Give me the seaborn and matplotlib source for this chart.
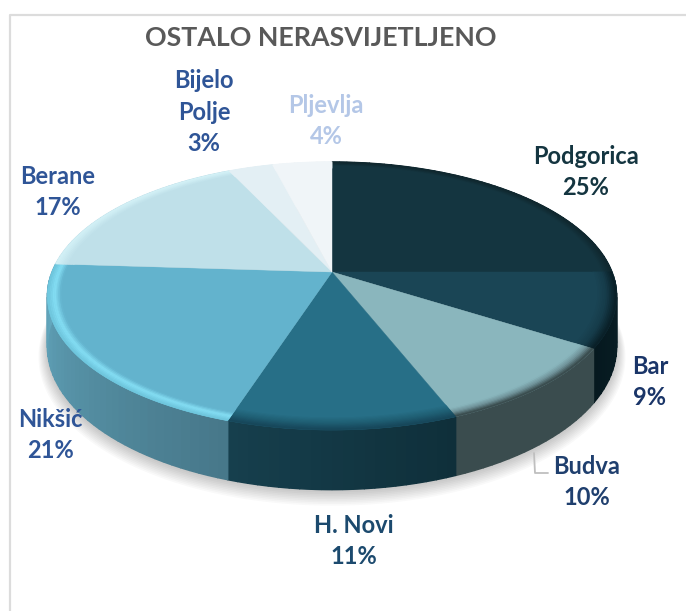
import numpy as np
import matplotlib
matplotlib.use("Agg")
import matplotlib.pyplot as plt
import seaborn as sns

# ── Data ────────────────────────────────────────────────────
title = "OSTALO NERASVIJETLJENO"
cities = ["Podgorica", "Bar", "Budva", "H. Novi", "Nikšić", "Berane", "Bijelo\nPolje", "Pljevlja"]
shares = [25, 9, 10, 11, 21, 17, 3, 4]

# ── Styles ──────────────────────────────────────────────────
top_cols = ["#143540", "#1a4555", "#8ab6bd", "#276f87", "#63b3cd", "#bfe0e9", "#e3eff4", "#f0f5f8"]
rim_cols = [["#143540", "#143540", "#10282f"],
            ["#1a4555", "#163c4a", "#0a2028"],
            ["#8ab6bd", "#8ab6bd", "#6f9299", "#3a4c4e"],
            ["#276f87", "#1f5e73", "#17475a"],
            ["#63b3cd", "#63b3cd", "#85dff5", "#70c8df"],
            ["#bfe0e9", "#bfe0e9", "#c8e8f0", "#d2f0f6"],
            ["#e3eff4", "#e3eff4", "#e3eff4"],
            ["#f0f5f8", "#f0f5f8", "#f0f5f8"]]
wall_cols = [["#0a2028", "#0a2028"],
             ["#0a2028", "#06191f"],
             ["#3a4c4e", "#3a4c4e"],
             ["#0f2f3a", "#163f4d"],
             ["#47788a", "#64a9c0"],
             ["#bfe0e9", "#bfe0e9"],
             ["#e3eff4", "#e3eff4"],
             ["#f0f5f8", "#f0f5f8"]]
label_cols = ["#143540", "#1a3568", "#1f3f6e", "#1c4a6e", "#2f5597", "#2f5597", "#2f5597", "#b4c7e7"]
label_pos = [(586, 172), (650, 382), (587, 482), (354, 541), (50, 435), (58, 192), (204, 112), (326, 121)]

# pie geometry in pixels, k tilts the disc towards the viewer
CX, CY = 332, 272
RX, RY = 280, 129.7
K = 0.179
DEPTH = 49
BEVEL = 0.93

sns.set_theme(style="white")
plt.rcParams["font.family"] = ["Lato", "DejaVu Sans"]


def project(theta, r=1.0, drop=0.0, grow=1.0):
    # theta runs clockwise from the top of the disc
    u = r * np.sin(theta)
    v = -r * np.cos(theta)
    den = 1 - K * v
    return CX + RX * grow * u / den, CY + RY * grow * v / den + drop / den


fig = plt.figure(figsize=(6.86, 6.11), dpi=100, facecolor="white")
ax = fig.add_axes([0, 0, 1, 1])
ax.set_xlim(0, 686)
ax.set_ylim(611, 0)
ax.axis("off")

# chart frame
ax.plot([10, 10, 686], [611, 15, 15], color="#dcdcdc", lw=1.6, zorder=1)

edges = np.cumsum([0] + shares) / sum(shares) * 2 * np.pi

# soft shadow under the pie
full = np.linspace(0, 2 * np.pi, 240)
for i in range(10):
    sx, sy = project(full, drop=DEPTH + 1 + i * 0.9, grow=1 + i * 0.0035)
    ax.fill(sx, sy, color="#000000", alpha=0.022, lw=0, zorder=2)

# side wall, drawn in short strips so the shade can change along the arc
for i in range(len(shares)):
    n = max(int(shares[i] * 2), 4)
    th = np.linspace(edges[i], edges[i + 1], n + 1)
    pal = sns.blend_palette(wall_cols[i], n)
    for j in range(n):
        t = np.linspace(th[j], th[j + 1], 6)
        x1, y1 = project(t)
        x2, y2 = project(t[::-1], drop=DEPTH)
        ax.fill(np.r_[x1, x2], np.r_[y1, y2], color=pal[j], lw=1.0, zorder=3 + i * 0.01)

# top face
for i in range(len(shares)):
    t = np.linspace(edges[i], edges[i + 1], 80)
    x, y = project(t)
    ax.fill(np.r_[CX, x], np.r_[CY, y], color=top_cols[i], lw=0.3, zorder=4)

# bevel round the edge of the top face
steps = 12
radii = np.linspace(BEVEL, 1, steps + 1)
for i in range(len(shares)):
    pal = sns.blend_palette(rim_cols[i], steps)
    t = np.linspace(edges[i], edges[i + 1], 80)
    for j in range(steps):
        x1, y1 = project(t, r=radii[j])
        x2, y2 = project(t[::-1], r=radii[j + 1])
        ax.fill(np.r_[x1, x2], np.r_[y1, y2], color=pal[j], lw=0.5, zorder=5)

# leader line for Budva
ax.plot([534, 535, 548], [453, 473, 473], color="#bfbfbf", lw=1.3, zorder=6)

# ── Labels ──────────────────────────────────────────────────
ax.text(321, 38, title, ha="center", va="center", fontsize=19.3, fontweight="bold",
        color="#595959", zorder=7)
for name, val, (lx, ly), col in zip(cities, shares, label_pos, label_cols):
    ax.text(lx, ly, f"{name}\n{val}%", ha="center", va="center", fontsize=17,
            fontweight="bold", color=col, linespacing=1.47, zorder=7)

plt.savefig("out.png", dpi=100)
plt.close()
